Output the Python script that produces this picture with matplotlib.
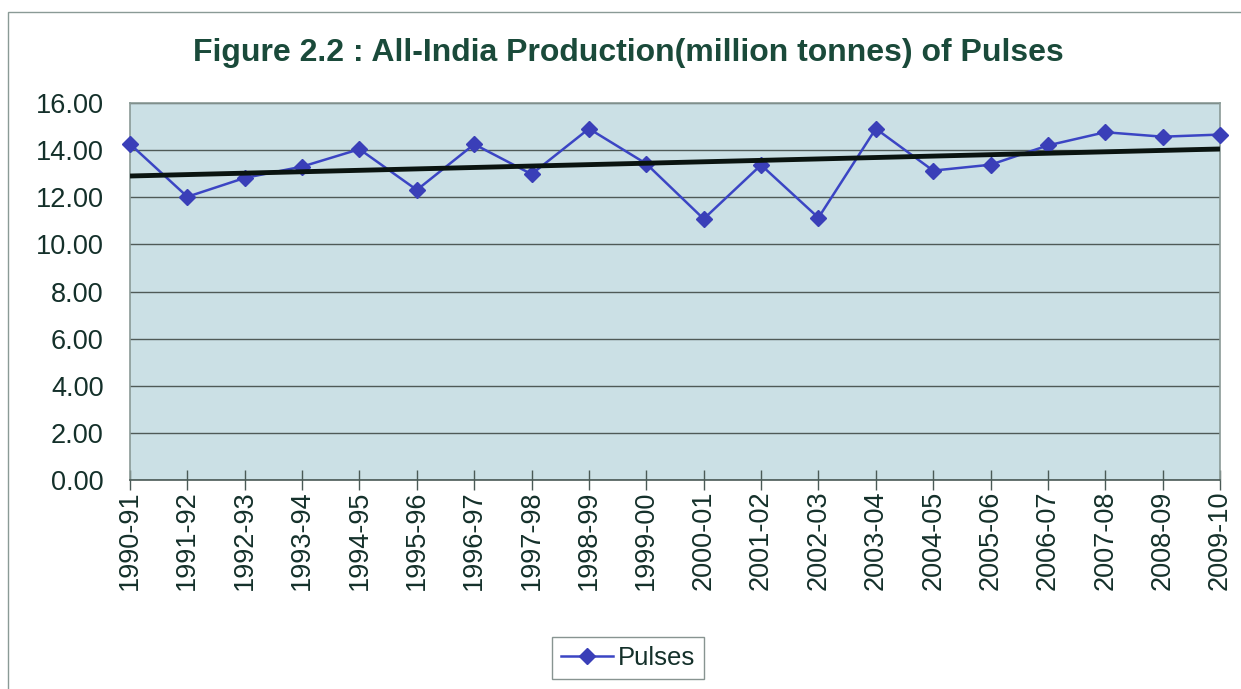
import matplotlib
matplotlib.use("Agg")
import matplotlib.pyplot as plt
import numpy as np
from matplotlib.patches import Rectangle

years = ["1990-91", "1991-92", "1992-93", "1993-94", "1994-95", "1995-96",
         "1996-97", "1997-98", "1998-99", "1999-00", "2000-01", "2001-02",
         "2002-03", "2003-04", "2004-05", "2005-06", "2006-07", "2007-08",
         "2008-09", "2009-10"]
pulses = [14.26, 12.02, 12.82, 13.30, 14.04, 12.31, 14.25, 12.98, 14.91, 13.42,
          11.08, 13.37, 11.13, 14.91, 13.13, 13.38, 14.20, 14.76, 14.57, 14.66]
yticks = [0, 2, 4, 6, 8, 10, 12, 14, 16]

plt.rcParams['font.family'] = ['Liberation Sans', 'DejaVu Sans']
txt = '#14302a'

fig = plt.figure(figsize=(12.41, 6.89), dpi=100)
fig.patch.set_facecolor('white')
# outer chart frame
fig.patches.append(Rectangle((8/1241, -0.01), 1.1, (689-12)/689 + 0.01,
                             transform=fig.transFigure, fill=False,
                             edgecolor='#8a9a96', linewidth=1.0))

ax = fig.add_axes([130/1241, 1-480/689, (1220-130)/1241, (480-103)/689])
ax.set_facecolor('#cbe0e5')
x = np.arange(len(years))
ax.set_xlim(0, len(years)-1)
ax.set_ylim(0, 16)
ax.set_yticks(yticks)
ax.set_yticklabels([f"{v:.2f}" for v in yticks], fontsize=19.5, color=txt)
ax.set_xticks(x)
ax.set_xticklabels(years, rotation=90, fontsize=19.5, color=txt)
ax.tick_params(axis='x', direction='inout', length=14, width=1, color='#4a5a56', pad=0.5)
ax.tick_params(axis='y', length=0, pad=19)
ax.grid(axis='y', color='#4f5a57', linewidth=1.0)
ax.set_axisbelow(True)
for s in ax.spines.values():
    s.set_color('#8a9a96')
    s.set_linewidth(1.2)
ax.spines['bottom'].set_color('#4a5a56')

ax.plot(x, pulses, color='#3b45c4', linewidth=1.8, marker='D', markersize=8,
        markerfacecolor='#3a3fb8', markeredgecolor='#3a3fb8', label='Pulses',
        zorder=3, clip_on=False)
coef = np.polyfit(x, pulses, 1)
ax.plot(x, np.polyval(coef, x), color='#0a1410', linewidth=3.5, zorder=4,
        solid_capstyle='butt')

fig.text(628/1241, 1-53/689, "Figure 2.2 : All-India Production(million tonnes) of Pulses",
         ha='center', va='center', fontsize=23, fontweight='bold', color='#1a4a3a')

leg = ax.legend(loc='center', bbox_to_anchor=(628/1241, 1-658/689),
                bbox_transform=fig.transFigure, fontsize=18.5, frameon=True,
                fancybox=False, edgecolor='#6a7a76', handlelength=2.0,
                handletextpad=0.2, borderpad=0.35, borderaxespad=0)
for t in leg.get_texts():
    t.set_color(txt)
leg.get_frame().set_linewidth(1.0)

fig.savefig("out.png", dpi=100)
